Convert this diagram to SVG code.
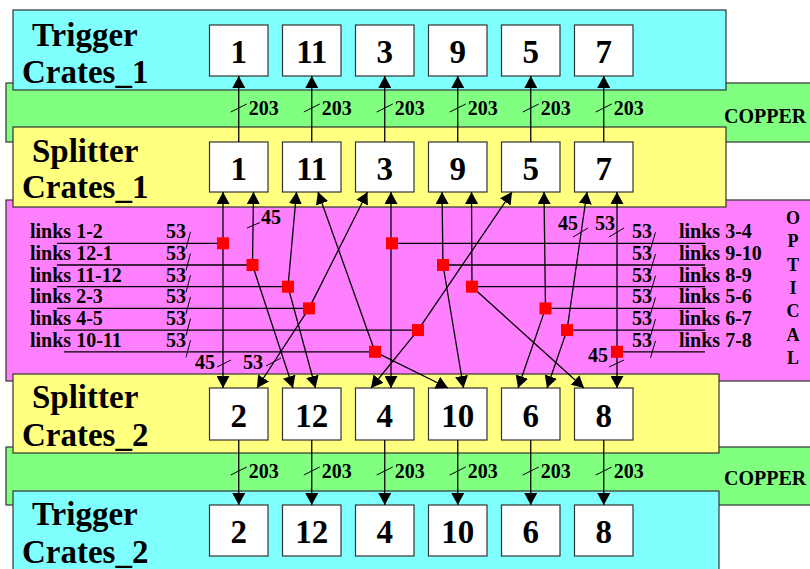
<svg xmlns="http://www.w3.org/2000/svg" width="810" height="569" viewBox="0 0 810 569">
<defs>
  <marker id="ah" markerUnits="userSpaceOnUse" markerWidth="13" markerHeight="13" refX="12" refY="6.5" orient="auto">
    <path d="M0,0 L12,6.5 L0,13 z" fill="#000"/>
  </marker>
  <style>
    .band{stroke:#333;stroke-width:1.2}
    .cyan{fill:#80ffff}
    .green{fill:#80ff80}
    .yellow{fill:#ffff80}
    .magenta{fill:#ff80ff}
    .box rect{fill:#fff;stroke:#333;stroke-width:1.2}
    text{font-family:"Liberation Serif","Times New Roman",serif;font-weight:bold;fill:#000}
    .num{font-size:33px;text-anchor:middle}
    .title{font-size:33px}
    .lbl{font-size:20px}
    .cnt{font-size:20px}
    .opt{font-size:18px;text-anchor:middle}
    .w{stroke:#000;stroke-width:1.3;fill:none}
    .arr{marker-end:url(#ah)}
    .sq{fill:#ff0000}
    .tick{stroke:#000;stroke-width:1;fill:none}
  </style>
</defs>

<!-- background bands -->
<g id="bands">
  <rect class="band green" x="6" y="83" width="810" height="59"/>
  <rect class="band green" x="6" y="447" width="810" height="58"/>
  <rect class="band magenta" x="6" y="200" width="810" height="181"/>
  <rect class="band cyan" x="13" y="10" width="713" height="80"/>
  <rect class="band yellow" x="13" y="127" width="713" height="80"/>
  <rect class="band yellow" x="13" y="374" width="706" height="79"/>
  <rect class="band cyan" x="13" y="491" width="706" height="90"/>
</g>

<!-- crate group titles -->
<g id="titles" class="title">
  <text x="32" y="46">Trigger</text>
  <text x="22" y="83">Crates_1</text>
  <text x="32" y="162">Splitter</text>
  <text x="22" y="198">Crates_1</text>
  <text x="32" y="408">Splitter</text>
  <text x="22" y="446">Crates_2</text>
  <text x="32" y="525">Trigger</text>
  <text x="22" y="563">Crates_2</text>
</g>

<g id="copper-labels" class="cnt">
  <text x="724" y="123">COPPER</text>
  <text x="724" y="485">COPPER</text>
</g>

<g id="optical-label" class="opt">
  <text x="793" y="224">O</text>
  <text x="793" y="247">P</text>
  <text x="793" y="270.5">T</text>
  <text x="793" y="294">I</text>
  <text x="793" y="317">C</text>
  <text x="793" y="340.5">A</text>
  <text x="793" y="364">L</text>
</g>

<!-- trigger crates 1 -->
<g id="tc1-1" class="box"><rect x="209.5" y="25" width="58.5" height="51"/><text class="num" x="238.75" y="63">1</text></g>
<g id="tc1-11" class="box"><rect x="282.5" y="25" width="58.5" height="51"/><text class="num" x="311.75" y="63">11</text></g>
<g id="tc1-3" class="box"><rect x="355.5" y="25" width="58.5" height="51"/><text class="num" x="384.75" y="63">3</text></g>
<g id="tc1-9" class="box"><rect x="428.5" y="25" width="58.5" height="51"/><text class="num" x="457.75" y="63">9</text></g>
<g id="tc1-5" class="box"><rect x="501.5" y="25" width="58.5" height="51"/><text class="num" x="530.75" y="63">5</text></g>
<g id="tc1-7" class="box"><rect x="574.5" y="25" width="58.5" height="51"/><text class="num" x="603.75" y="63">7</text></g>

<!-- splitter crates 1 -->
<g id="sc1-1" class="box"><rect x="209.5" y="142" width="58.5" height="50"/><text class="num" x="238.75" y="180">1</text></g>
<g id="sc1-11" class="box"><rect x="282.5" y="142" width="58.5" height="50"/><text class="num" x="311.75" y="180">11</text></g>
<g id="sc1-3" class="box"><rect x="355.5" y="142" width="58.5" height="50"/><text class="num" x="384.75" y="180">3</text></g>
<g id="sc1-9" class="box"><rect x="428.5" y="142" width="58.5" height="50"/><text class="num" x="457.75" y="180">9</text></g>
<g id="sc1-5" class="box"><rect x="501.5" y="142" width="58.5" height="50"/><text class="num" x="530.75" y="180">5</text></g>
<g id="sc1-7" class="box"><rect x="574.5" y="142" width="58.5" height="50"/><text class="num" x="603.75" y="180">7</text></g>

<!-- splitter crates 2 -->
<g id="sc2-2" class="box"><rect x="209.5" y="388" width="58.5" height="52"/><text class="num" x="238.75" y="427">2</text></g>
<g id="sc2-12" class="box"><rect x="282.5" y="388" width="58.5" height="52"/><text class="num" x="311.75" y="427">12</text></g>
<g id="sc2-4" class="box"><rect x="355.5" y="388" width="58.5" height="52"/><text class="num" x="384.75" y="427">4</text></g>
<g id="sc2-10" class="box"><rect x="428.5" y="388" width="58.5" height="52"/><text class="num" x="457.75" y="427">10</text></g>
<g id="sc2-6" class="box"><rect x="501.5" y="388" width="58.5" height="52"/><text class="num" x="530.75" y="427">6</text></g>
<g id="sc2-8" class="box"><rect x="574.5" y="388" width="58.5" height="52"/><text class="num" x="603.75" y="427">8</text></g>

<!-- trigger crates 2 -->
<g id="tc2-2" class="box"><rect x="209.5" y="505" width="58.5" height="51"/><text class="num" x="238.75" y="543">2</text></g>
<g id="tc2-12" class="box"><rect x="282.5" y="505" width="58.5" height="51"/><text class="num" x="311.75" y="543">12</text></g>
<g id="tc2-4" class="box"><rect x="355.5" y="505" width="58.5" height="51"/><text class="num" x="384.75" y="543">4</text></g>
<g id="tc2-10" class="box"><rect x="428.5" y="505" width="58.5" height="51"/><text class="num" x="457.75" y="543">10</text></g>
<g id="tc2-6" class="box"><rect x="501.5" y="505" width="58.5" height="51"/><text class="num" x="530.75" y="543">6</text></g>
<g id="tc2-8" class="box"><rect x="574.5" y="505" width="58.5" height="51"/><text class="num" x="603.75" y="543">8</text></g>

<!-- connectors -->
<g id="connectors">
  <!-- copper: splitter 1 -> trigger 1 -->
  <g class="w arr">
    <path d="M238.75,142 V76"/><path d="M311.75,142 V76"/><path d="M384.75,142 V76"/>
    <path d="M457.75,142 V76"/><path d="M530.75,142 V76"/><path d="M603.75,142 V76"/>
    <!-- copper: splitter 2 -> trigger 2 -->
    <path d="M238.75,440 V505"/><path d="M311.75,440 V505"/><path d="M384.75,440 V505"/>
    <path d="M457.75,440 V505"/><path d="M530.75,440 V505"/><path d="M603.75,440 V505"/>
  </g>
  <g class="tick">
    <path d="M230.75,112 L246.75,104"/><path d="M303.75,112 L319.75,104"/><path d="M376.75,112 L392.75,104"/>
    <path d="M449.75,112 L465.75,104"/><path d="M522.75,112 L538.75,104"/><path d="M595.75,112 L611.75,104"/>
    <path d="M230.75,475 L246.75,467"/><path d="M303.75,475 L319.75,467"/><path d="M376.75,475 L392.75,467"/>
    <path d="M449.75,475 L465.75,467"/><path d="M522.75,475 L538.75,467"/><path d="M595.75,475 L611.75,467"/>
  </g>
  <g class="cnt">
    <text x="248.75" y="115">203</text><text x="321.75" y="115">203</text><text x="394.75" y="115">203</text>
    <text x="467.75" y="115">203</text><text x="540.75" y="115">203</text><text x="613.75" y="115">203</text>
    <text x="248.75" y="478">203</text><text x="321.75" y="478">203</text><text x="394.75" y="478">203</text>
    <text x="467.75" y="478">203</text><text x="540.75" y="478">203</text><text x="613.75" y="478">203</text>
  </g>

  <!-- optical links: incoming fibres -->
  <g class="w">
    <path d="M57,243.3 H223"/>
    <path d="M57,265 H252.5"/>
    <path d="M57,286.7 H288"/>
    <path d="M57,308.4 H309"/>
    <path d="M64,330.1 H418"/>
    <path d="M64,351.8 H375"/>
    <path d="M705,243.3 H391"/>
    <path d="M705,265 H443"/>
    <path d="M705,286.7 H472"/>
    <path d="M705,308.4 H545.5"/>
    <path d="M705,330.1 H567"/>
    <path d="M705,351.8 H617"/>
  </g>
  <!-- optical links: split to both splitter rows -->
  <g class="w arr">
    <path d="M223,243.3 L223,192"/><path d="M223,243.3 L223,388"/>
    <path d="M252.5,265 L253.5,192"/><path d="M252.5,265 L293,388"/>
    <path d="M288,286.7 L296.5,192"/><path d="M288,286.7 L315.5,388"/>
    <path d="M309,308.4 L367.5,192"/><path d="M309,308.4 L257,388"/>
    <path d="M418,330.1 L512,192"/><path d="M418,330.1 L371,388"/>
    <path d="M375,351.8 L318,192"/><path d="M375,351.8 L448,388"/>
    <path d="M391,243.3 L391,192"/><path d="M391,243.3 L391,388"/>
    <path d="M443,265 L442,192"/><path d="M443,265 L463.5,388"/>
    <path d="M472,286.7 L471.5,192"/><path d="M472,286.7 L584,388"/>
    <path d="M545.5,308.4 L544,192"/><path d="M545.5,308.4 L518,388"/>
    <path d="M567,330.1 L587,192"/><path d="M567,330.1 L547,388"/>
    <path d="M617,351.8 L617,192"/><path d="M617,351.8 L617,388"/>
  </g>
  <!-- splitter points -->
  <g class="sq">
    <rect x="217" y="237.3" width="12" height="12"/>
    <rect x="246.5" y="259" width="12" height="12"/>
    <rect x="282" y="280.7" width="12" height="12"/>
    <rect x="303" y="302.4" width="12" height="12"/>
    <rect x="412" y="324.1" width="12" height="12"/>
    <rect x="369" y="345.8" width="12" height="12"/>
    <rect x="386" y="237.3" width="12" height="12"/>
    <rect x="437" y="259" width="12" height="12"/>
    <rect x="466" y="280.7" width="12" height="12"/>
    <rect x="539.5" y="302.4" width="12" height="12"/>
    <rect x="561" y="324.1" width="12" height="12"/>
    <rect x="611" y="345.8" width="12" height="12"/>
  </g>
  <!-- fibre count marks -->
  <g class="tick">
    <path d="M190.5,231.8 L186,248.8"/><path d="M190.5,253.5 L186,270.5"/><path d="M190.5,275.2 L186,292.2"/>
    <path d="M190.5,296.9 L186,313.9"/><path d="M190.5,318.6 L186,335.6"/><path d="M190.5,340.3 L186,357.3"/>
    <path d="M655.5,232.3 L650.5,249.3"/><path d="M655.5,254 L650.5,271"/><path d="M655.5,275.7 L650.5,292.7"/>
    <path d="M655.5,297.4 L650.5,314.4"/><path d="M655.5,319.1 L650.5,336.1"/><path d="M655.5,340.8 L650.5,357.8"/>
    <path d="M247,228 L260,222.5"/>
    <path d="M217,367 L231,360"/>
    <path d="M266,366 L281,358"/>
    <path d="M573,237 L588,228"/>
    <path d="M609,237 L624,228"/>
    <path d="M609,367 L624,360"/>
  </g>
  <g class="lbl">
    <text x="30" y="238.3">links 1-2</text>
    <text x="30" y="260">links 12-1</text>
    <text x="30" y="281.7">links 11-12</text>
    <text x="30" y="303.4">links 2-3</text>
    <text x="30" y="325.1">links 4-5</text>
    <text x="30" y="346.8">links 10-11</text>
    <text x="166" y="238.3">53</text><text x="166" y="260">53</text><text x="166" y="281.7">53</text>
    <text x="166" y="303.4">53</text><text x="166" y="325.1">53</text><text x="166" y="346.8">53</text>
    <text x="679" y="238.3">links 3-4</text>
    <text x="679" y="260">links 9-10</text>
    <text x="679" y="281.7">links 8-9</text>
    <text x="679" y="303.4">links 5-6</text>
    <text x="679" y="325.1">links 6-7</text>
    <text x="679" y="346.8">links 7-8</text>
    <text x="632" y="238.3">53</text><text x="632" y="260">53</text><text x="632" y="281.7">53</text>
    <text x="632" y="303.4">53</text><text x="632" y="325.1">53</text><text x="632" y="346.8">53</text>
    <text x="261" y="224">45</text>
    <text x="195" y="369">45</text>
    <text x="243" y="369">53</text>
    <text x="558" y="230">45</text>
    <text x="595" y="230">53</text>
    <text x="588" y="362">45</text>
  </g>
</g>
</svg>
